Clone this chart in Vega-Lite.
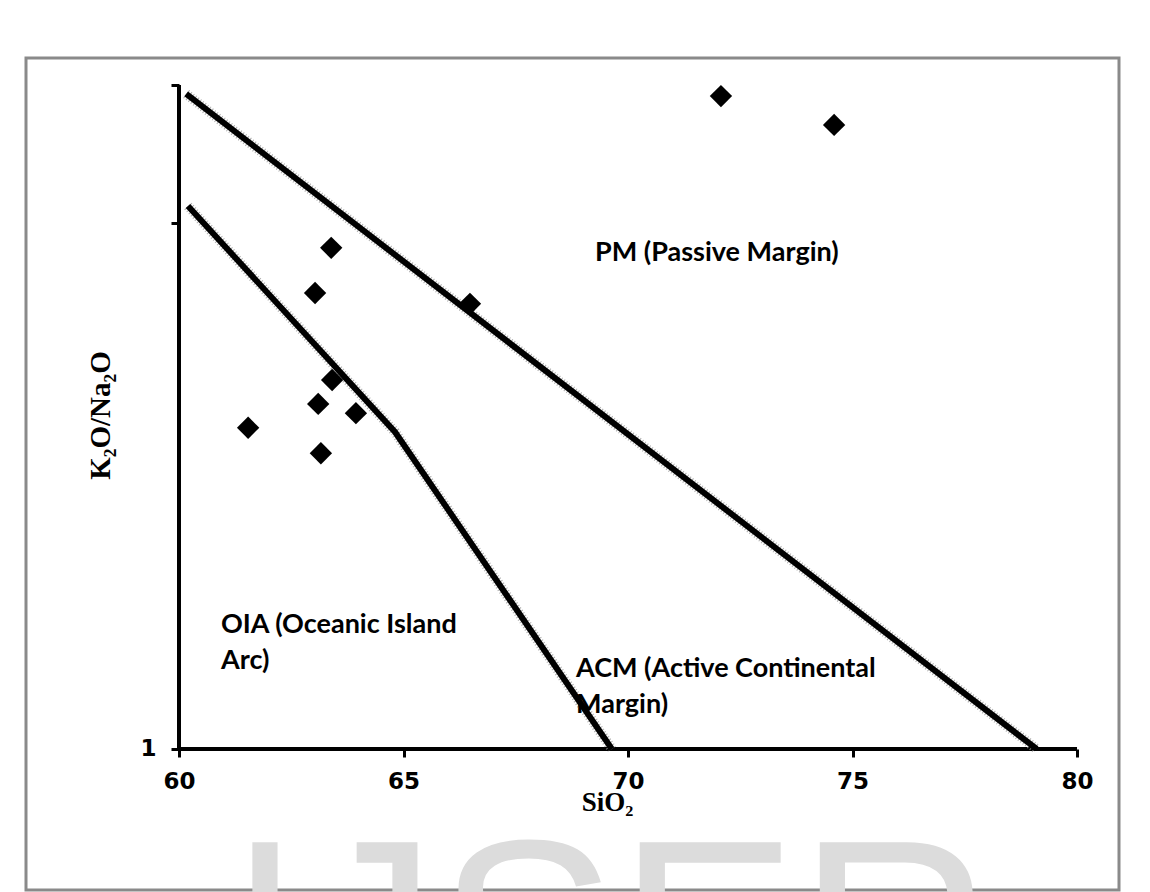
{
  "$schema": "https://vega.github.io/schema/vega-lite/v6.json",
  "width": 1093,
  "height": 832,
  "autosize": {"type": "none"},
  "padding": {"left": 26, "top": 58, "right": 31, "bottom": 2},
  "background": "white",
  "config": {
    "view": {"stroke": "#8a8a8a", "strokeWidth": 3}
  },
  "datasets": {
    "samples": [
      {"SiO2": 72.07, "ratio": 17.43},
      {"SiO2": 74.59, "ratio": 15.36},
      {"SiO2": 63.39, "ratio": 8.97},
      {"SiO2": 63.03, "ratio": 7.36},
      {"SiO2": 66.48, "ratio": 7.02},
      {"SiO2": 63.41, "ratio": 5.03},
      {"SiO2": 63.10, "ratio": 4.53},
      {"SiO2": 63.94, "ratio": 4.35},
      {"SiO2": 61.54, "ratio": 4.08},
      {"SiO2": 63.16, "ratio": 3.65}
    ],
    "boundaries": [
      {"boundary": "PM-ACM", "SiO2": 60.16, "ratio": 17.59},
      {"boundary": "PM-ACM", "SiO2": 79.10, "ratio": 1.0},
      {"boundary": "ACM-OIA", "SiO2": 60.20, "ratio": 10.77},
      {"boundary": "ACM-OIA", "SiO2": 64.81, "ratio": 4.006},
      {"boundary": "ACM-OIA", "SiO2": 69.64, "ratio": 1.0}
    ],
    "labels": [
      {"SiO2": 69.265, "ratio": 8.77, "label": "PM (Passive Margin)"},
      {"SiO2": 60.935, "ratio": 1.721, "label": "OIA (Oceanic Island"},
      {"SiO2": 60.935, "ratio": 1.470, "label": "Arc)"},
      {"SiO2": 68.842, "ratio": 1.419, "label": "ACM (Active Continental"},
      {"SiO2": 68.842, "ratio": 1.212, "label": "Margin)"}
    ],
    "axislines": [
      {"SiO2": 60, "ratio": 1, "SiO2_end": 80, "ratio_end": 1},
      {"SiO2": 60, "ratio": 1, "SiO2_end": 60, "ratio_end": 18.3}
    ],
    "watermark": [
      {"SiO2": 69.6, "ratio": 0.2948, "label": "IJSER"}
    ]
  },
  "encoding": {
    "x": {
      "field": "SiO2",
      "type": "quantitative",
      "scale": {"type": "linear", "domain": [56.5924, 80.935], "nice": false, "zero": false},
      "axis": {
        "title": "SiO₂",
        "values": [60, 65, 70, 75, 80],
        "offset": -141,
        "domain": false,
        "grid": false,
        "ticks": true,
        "tickSize": 8,
        "tickWidth": 3,
        "tickColor": "black",
        "labelFont": "DejaVu Sans",
        "labelFontWeight": "bold",
        "labelFontSize": 23,
        "labelColor": "black",
        "labelPadding": 13,
        "labelFlush": false,
        "labelOverlap": false,
        "titleFont": "Liberation Serif",
        "titleFontSize": 27,
        "titleFontWeight": "bold",
        "titleColor": "black",
        "titleX": 581,
        "titleY": 61,
        "titleBaseline": "alphabetic",
        "titleAlign": "center"
      }
    },
    "y": {
      "field": "ratio",
      "type": "quantitative",
      "scale": {"type": "log", "domain": [0.5394, 20.59], "nice": false},
      "axis": {
        "title": "K₂O/Na₂O",
        "values": [1, 10, 18.3],
        "labelExpr": "datum.value == 1 ? '1' : ''",
        "offset": -153,
        "domain": false,
        "grid": false,
        "ticks": true,
        "tickSize": 8,
        "tickWidth": 3,
        "tickColor": "black",
        "labelFont": "DejaVu Sans",
        "labelFontWeight": "bold",
        "labelFontSize": 23,
        "labelColor": "black",
        "labelPadding": 15,
        "labelOverlap": false,
        "titleFont": "Liberation Serif",
        "titleFontSize": 29,
        "titleFontWeight": "bold",
        "titleColor": "black",
        "titleAngle": -90,
        "titleX": -79,
        "titleY": 357,
        "titleAlign": "center",
        "titleBaseline": "middle"
      }
    }
  },
  "layer": [
    {
      "data": {"name": "watermark"},
      "mark": {"type": "text", "font": "Liberation Sans", "fontSize": 270, "color": "#dcdcdc", "align": "center", "baseline": "alphabetic"},
      "encoding": {"text": {"field": "label"}}
    },
    {
      "data": {"name": "axislines"},
      "mark": {"type": "rule", "color": "black", "strokeWidth": 4},
      "encoding": {
        "x2": {"field": "SiO2_end"},
        "y2": {"field": "ratio_end"}
      }
    },
    {
      "data": {"name": "boundaries"},
      "mark": {"type": "line", "color": "#9a9a9a", "strokeWidth": 10, "strokeDash": [1, 2], "opacity": 0.8},
      "encoding": {"detail": {"field": "boundary"}}
    },
    {
      "data": {"name": "boundaries"},
      "mark": {"type": "line", "color": "black", "strokeWidth": 6},
      "encoding": {"detail": {"field": "boundary"}}
    },
    {
      "data": {"name": "samples"},
      "mark": {"type": "point", "shape": "diamond", "filled": true, "color": "black", "size": 500, "opacity": 1}
    },
    {
      "data": {"name": "labels"},
      "mark": {"type": "text", "font": "Lato", "fontWeight": "bold", "fontSize": 27, "color": "black", "align": "left", "baseline": "middle"},
      "encoding": {"text": {"field": "label"}}
    }
  ]
}
